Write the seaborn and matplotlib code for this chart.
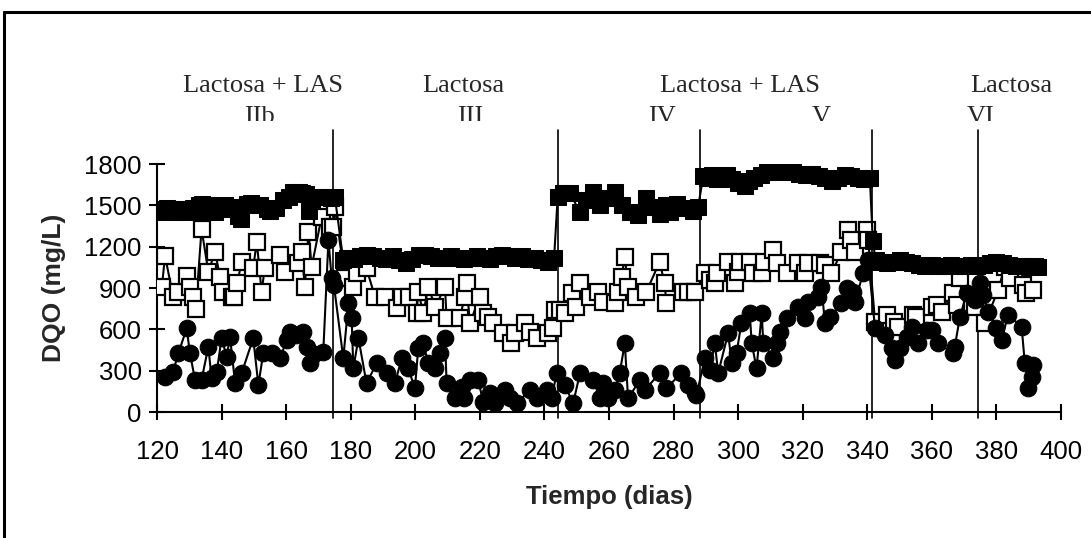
import matplotlib
matplotlib.use("Agg")
import matplotlib.pyplot as plt
import seaborn as sns
import pandas as pd
from matplotlib.lines import Line2D
from matplotlib.patches import Rectangle

# ---------------- data ----------------
dqo_in_days = [121, 122, 123, 124, 125, 126, 127, 128, 129, 131, 132, 133, 134, 135, 136, 137, 138, 140,
               141, 142, 144, 145, 146, 148, 149, 150, 152, 154, 155, 157, 159, 161, 162, 164, 165, 166,
               167, 168, 170, 172, 174, 175.1,
               177.7, 179, 181, 183, 185, 187, 189, 191, 193, 195, 197, 199, 201, 203, 205, 207, 209, 211,
               213, 215, 217, 219, 221, 223, 225, 227, 229, 231, 233, 235, 237, 239, 241, 243,
               244.1, 245.8, 247.9, 251, 253, 255.1, 257.2, 259.5, 261.8, 263.9, 266.4, 269, 271.6, 273.7,
               275.8, 277.8, 278.9, 281, 283.5, 286, 287.6,
               289.2, 290.5, 292, 293.5, 295, 296.5, 298, 300, 302, 303.5, 305, 307, 309, 311, 313, 315,
               317, 319, 321, 323, 325, 327, 329, 331, 333, 335, 337, 339, 340.8,
               341.7, 342.6, 344, 346, 348, 350, 352, 354, 356, 358, 360, 362, 364, 366, 368, 370, 372,
               374, 376, 378, 380, 382, 384, 386, 388, 390, 392, 393]
dqo_in = [1470, 1450, 1480, 1460, 1470, 1450, 1460, 1470, 1450, 1480, 1460, 1500, 1510, 1460, 1500, 1470,
          1450, 1480, 1500, 1470, 1490, 1420, 1400, 1510, 1520, 1500, 1500, 1470, 1460, 1480, 1540, 1560,
          1600, 1600, 1590, 1580, 1460, 1540, 1560, 1560, 1550, 1560,
          1100, 1120, 1110, 1130, 1140, 1130, 1120, 1110, 1130, 1100, 1080, 1110, 1140, 1140, 1130, 1120,
          1120, 1130, 1120, 1110, 1120, 1130, 1120, 1110, 1130, 1140, 1130, 1120, 1130, 1110, 1120, 1100,
          1090, 1120,
          1560, 1590, 1590, 1450, 1540, 1600, 1500, 1550, 1600, 1500, 1450, 1430, 1550, 1490, 1440, 1500,
          1450, 1510, 1480, 1460, 1490,
          1710, 1700, 1720, 1690, 1700, 1720, 1690, 1660, 1640, 1680, 1700, 1720, 1740, 1750, 1740, 1750,
          1740, 1730, 1720, 1730, 1710, 1700, 1680, 1700, 1720, 1710, 1700, 1690, 1700,
          1240, 1100, 1090, 1080, 1090, 1100, 1090, 1080, 1070, 1060, 1070, 1060, 1060, 1070, 1060, 1060,
          1070, 1060, 1070, 1080, 1090, 1080, 1070, 1060, 1060, 1050, 1060, 1050]

dqo_tot_days = [121.5, 122.5, 125, 126.5, 129.2, 130.2, 131, 132, 133.8, 135.9, 138, 139.5, 140.5, 143.1,
                144, 144.9, 146.2, 149.8, 150.9, 152.4, 153.4, 158, 159.6, 163.8, 164.8, 165.8, 166.9,
                167.9, 171, 173.6, 174.6, 175.1, 178.2, 180.8, 181.8, 184.9, 187.5, 190.6, 194.2, 195.8,
                198.1, 200.4, 200.9, 202.5, 204, 206.2, 209.2, 209.7, 213.8, 215.3, 215.9, 216.9, 220,
                221, 222.6, 224.2, 227.2, 229.8, 230.9, 234, 235.5, 237.6, 241.2, 242.7, 243.3, 244.8,
                246.3, 248.4, 249.9, 251, 254.1, 256.7, 258.2, 261.8, 262.8, 263.9, 264.9, 265.9, 268.5,
                271.6, 275.7, 277.2, 277.8, 282.9, 284.4, 286.6, 289.7, 291.2, 292.8, 293.3, 296.9, 299,
                300, 300.5, 303.6, 304.7, 307.3, 308, 310.9, 311.9, 315, 318.6, 320.7, 321.7, 325.3,
                326.9, 328.9, 332, 334.1, 335.1, 336.2, 339.8, 340.3, 342.4, 346, 348.3, 349.6, 354.2,
                355, 359.9, 361.5, 363.1, 366.6, 367.7, 368.7, 372.3, 373.3, 376.4, 380.5, 382.6, 384.2,
                388.3, 389.3, 391.4]
dqo_tot = [909, 1132, 837, 873, 987, 909, 837, 745, 1328, 1018, 1163, 982, 873, 837, 837, 939, 1091,
           1047, 1236, 873, 1047, 1139, 1018, 1079, 1163, 909, 1309, 1054, 1417, 1345, 1345, 1490, 970,
           909, 1006, 1042, 837, 837, 752, 837, 837, 716, 873, 716, 909, 764, 909, 680, 680, 837, 934,
           644, 837, 716, 692, 644, 571, 499, 571, 644, 583, 535, 571, 607, 740, 740, 716, 861, 764, 934,
           837, 873, 800, 788, 873, 982, 1127, 909, 837, 873, 1091, 934, 788, 873, 873, 873, 1006, 960,
           934, 1010, 1091, 934, 1018, 1091, 1091, 1006, 1006, 1091, 1176, 1079, 1006, 1079, 1006, 1079,
           1079, 1067, 1006, 1163, 1321, 1248, 1163, 1321, 1248, 655, 704, 655, 619, 704, 690, 764, 776,
           728, 861, 776, 970, 788, 764, 644, 885, 1054, 970, 922, 861, 885]

dqo_sol_days = [122.5, 125, 126.6, 129.2, 130.2, 131.8, 133.8, 135.9, 136.9, 138.5, 140, 141.6, 142.6,
                144.2, 146.2, 149.8, 151.4, 152.9, 155.5, 158.1, 160.2, 161.2, 163, 165.3, 166.4, 167.4,
                168.5, 171.5, 173.1, 174.1, 174.8, 177.7, 179.3, 180.3, 180.8, 182.4, 184.9, 188, 191.1,
                193.7, 195.8, 197.8, 199.9, 200.9, 202.5, 204, 206.1, 207.6, 209.2, 209.7, 212.3, 214.4,
                215, 216.9, 219.5, 221, 223.1, 224.7, 227.8, 229.4, 231.5, 235.5, 237.6, 240.7, 242.2,
                243.8, 246.3, 248.9, 251, 255.1, 257.2, 258.2, 259.8, 261.8, 263.3, 264.9, 265.9, 269.6,
                271.1, 275.7, 277.8, 282.3, 284.4, 286.6, 287.1, 289.7, 291.2, 292.8, 293.8, 296.9, 298,
                299.5, 301, 303.6, 304.2, 305.7, 307.3, 307.8, 310.9, 311.9, 312.9, 315, 318.6, 320.7,
                321.7, 324.8, 325.8, 326.9, 328.4, 332, 333.6, 335.6, 336.2, 338.7, 340.3, 342.4, 345.5,
                347.5, 348.6, 350.1, 352.2, 353.7, 355.8, 358.4, 359.9, 362, 366.6, 367.1, 368.7, 370.8,
                373.3, 374.9, 375.9, 377.5, 380, 381.6, 383.6, 387.8, 388.8, 391.4, 390.9, 389.9]
dqo_sol = [256, 293, 426, 607, 426, 232, 232, 474, 245, 290, 535, 401, 547, 208, 281, 535, 196, 426, 426,
           390, 523, 583, 560, 583, 474, 353, 420, 438, 1248, 970, 920, 390, 789, 680, 317, 535, 208, 353,
           281, 208, 390, 317, 172, 462, 499, 353, 317, 426, 535, 208, 99, 184, 99, 232, 232, 75, 136, 63,
           160, 99, 63, 160, 99, 160, 99, 281, 196, 63, 281, 232, 99, 208, 99, 160, 281, 499, 99, 232,
           160, 281, 172, 281, 196, 136, 123, 390, 305, 499, 281, 571, 353, 426, 644, 716, 499, 317, 716,
           499, 390, 499, 583, 680, 764, 680, 800, 837, 909, 644, 692, 788, 898, 873, 800, 1006, 1100,
           607, 559, 462, 377, 462, 547, 619, 499, 595, 595, 499, 426, 474, 692, 861, 813, 934, 849, 728,
           607, 523, 704, 619, 353, 341, 256, 172]

phase_days = [174.4, 244.1, 288.3, 341.6, 374.2]
feed_labels = ["Lactosa + LAS", "Lactosa", "Lactosa + LAS", "Lactosa"]
phase_labels = ["IIb", "III", "IV", "V", "VI"]
x_ticks = list(range(120, 401, 20))
y_ticks = list(range(0, 1801, 300))

# ---------------- figure ----------------
W, H = 1091, 538
sns.set_theme(style="white")
plt.rcParams["font.family"] = ["Liberation Sans", "DejaVu Sans"]
fig = plt.figure(figsize=(W / 100, H / 100), dpi=100)
fig.patch.set_facecolor("white")
ax = fig.add_axes([157 / W, 1 - 412 / H, (1061 - 157) / W, (412 - 164) / H])
ax.set_facecolor("white")

df_tot = pd.DataFrame({"d": dqo_tot_days, "v": dqo_tot})
df_in = pd.DataFrame({"d": dqo_in_days, "v": dqo_in})
df_sol = pd.DataFrame({"d": dqo_sol_days, "v": dqo_sol})

sns.lineplot(data=df_tot, x="d", y="v", ax=ax, estimator=None, sort=False, color="black", lw=1.5,
             marker="s", markersize=11.5, markerfacecolor="white", markeredgecolor="black",
             markeredgewidth=1.6, zorder=3)
sns.lineplot(data=df_in, x="d", y="v", ax=ax, estimator=None, sort=False, color="black", lw=1.5,
             marker="s", markersize=12, markerfacecolor="black", markeredgecolor="black", zorder=4)
sns.lineplot(data=df_sol, x="d", y="v", ax=ax, estimator=None, sort=False, color="black", lw=1.5,
             marker="o", markersize=12, markerfacecolor="black", markeredgecolor="black", zorder=5)

ax.set_xlim(120, 400)
ax.set_ylim(0, 1800)
ax.set_xticks(x_ticks)
ax.set_yticks(y_ticks)
ax.tick_params(axis="both", direction="inout", length=12, width=1.5, colors="black",
               labelsize=18.5, bottom=True, left=True)
ax.tick_params(axis="x", pad=14)
ax.tick_params(axis="y", pad=5)
for s in ["top", "right"]:
    ax.spines[s].set_visible(False)
for s in ["left", "bottom"]:
    ax.spines[s].set_color("black")
    ax.spines[s].set_linewidth(1.5)
ax.set_xlabel("Tiempo (dias)", fontsize=18.5, fontweight="bold", labelpad=15)
ax.set_ylabel("DQO (mg/L)", fontsize=19, fontweight="bold", labelpad=13)

# phase boundaries
for d in phase_days:
    ax.axvline(d, ymin=-0.024, ymax=(412 - 130) / 248, color="black", lw=1.2, clip_on=False, zorder=2)

# annotations
serif = ["Liberation Serif", "DejaVu Serif"]
feed_x = [263, 463, 740, 1011]
for lab, px in zip(feed_labels, feed_x):
    fig.text(px / W, 1 - 86 / H, lab, ha="center", va="center", fontsize=19, family=serif, zorder=3)
phase_x = [259, 470, 662, 821, 981]
for lab, px in zip(phase_labels, phase_x):
    fig.text(px / W, 1 - 117 / H, lab, ha="center", va="center", fontsize=19, family=serif, zorder=3)
# the lower part of the phase numerals is hidden, as in the original figure
fig.add_artist(Rectangle((0.01, 1 - 129 / H), 0.98, 8 / H, transform=fig.transFigure,
                         facecolor="white", edgecolor="none", zorder=10))

# outer frame (cropped box)
fig.add_artist(Line2D([4 / W, 4 / W], [0, 1 - 12 / H], transform=fig.transFigure, color="black", lw=2.2))
fig.add_artist(Line2D([4 / W, 1], [1 - 12 / H, 1 - 12 / H], transform=fig.transFigure, color="black", lw=2.2))

fig.savefig("out.png", dpi=100, facecolor="white")
